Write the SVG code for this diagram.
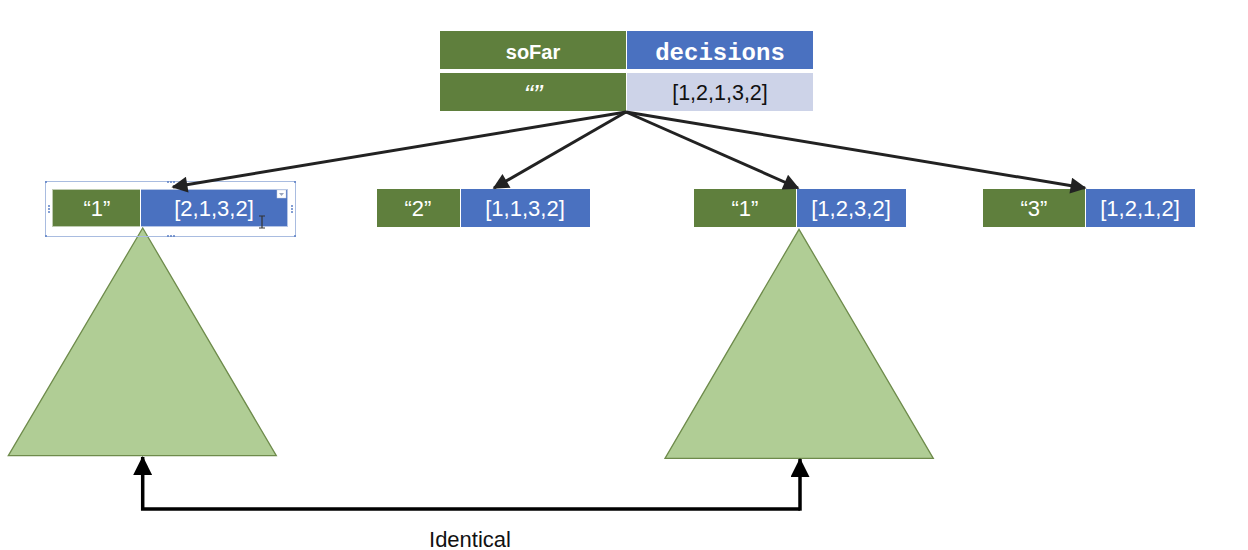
<svg xmlns="http://www.w3.org/2000/svg" width="1248" height="550" viewBox="0 0 1248 550">
<defs>
<style>
.g{fill:#5F7F3D}
.b{fill:#4A71C0}
.lb{fill:#CDD3E8}
.t{font-family:"Liberation Sans",Arial,sans-serif;font-size:22px;fill:#FFFFFF;text-anchor:middle}
.q{font-family:"Liberation Sans",Arial,sans-serif;font-size:28px;font-style:italic;fill:#FFFFFF;text-anchor:middle}
.tk{font-family:"Liberation Sans",Arial,sans-serif;font-size:21.5px;fill:#111111;text-anchor:middle}
.hb{font-family:"Liberation Sans",Arial,sans-serif;font-size:20px;font-weight:bold;fill:#FFFFFF;text-anchor:middle}
.hm{font-family:"Liberation Mono","Courier New",monospace;font-size:24px;font-weight:bold;fill:#FFFFFF;text-anchor:middle}
.tri{fill:#B0CD95;stroke:#6E8B4B;stroke-width:1.3}
.conn{stroke:#222222;stroke-width:3;fill:none;marker-end:url(#ah)}
.sel{fill:none;stroke:#A9BCE0;stroke-width:1}
.h{fill:#5B7FC4}
</style>
<marker id="ah" viewBox="0 0 10 10" refX="9" refY="5" markerWidth="21" markerHeight="16" markerUnits="userSpaceOnUse" orient="auto">
<path d="M0,0 L10,5 L0,10 z" fill="#222222"/>
</marker>
<marker id="ah2" viewBox="0 0 10 10" refX="9.5" refY="5" markerWidth="26" markerHeight="19" markerUnits="userSpaceOnUse" orient="auto">
<path d="M0,0 L10,5 L0,10 z" fill="#000000"/>
</marker>
</defs>
<rect width="1248" height="550" fill="#FFFFFF"/>

<g id="tri-left"><polygon class="tri" points="142.7,228 8.3,455.7 276.3,455.7"/></g>
<g id="tri-right"><polygon class="tri" points="799,229.3 665,458.3 933.3,458.3"/></g>

<g id="root">
<rect class="g" x="440" y="31" width="186" height="38"/>
<rect class="b" x="627" y="31" width="186" height="38"/>
<rect class="g" x="440" y="73" width="186" height="38"/>
<rect class="lb" x="627" y="73" width="186" height="38"/>
<text class="hb" x="533" y="59">soFar</text>
<text class="hm" x="720" y="60">decisions</text>
<text class="q" x="533" y="104">“”</text>
<text class="tk" x="720" y="100">[1,2,1,3,2]</text>
</g>

<g id="node1">
<rect class="sel" x="45.5" y="181.5" width="250" height="55"/>
<rect class="g" x="52" y="189" width="88" height="38"/>
<rect class="b" x="141" y="189" width="147" height="38"/>
<rect fill="none" stroke="#FFFFFF" stroke-width="1" x="52.5" y="189.5" width="235" height="37" opacity="0.6"/>
<text class="t" x="97" y="216">“1”</text>
<text class="t" x="214" y="216">[2,1,3,2]</text>
<rect x="277" y="190" width="9" height="8" fill="#FFFFFF" stroke="#C8D0E0" stroke-width="0.5"/>
<path d="M279,193 L284,193 L281.5,196 z" fill="#9AA5BC"/>
<path d="M259,216 L265,216 M262,216 L262,228 M259,228 L265,228" stroke="#333333" stroke-width="1.2"/>
<circle class="h" cx="46" cy="182" r="1"/><circle class="h" cx="295" cy="182" r="1"/>
<circle class="h" cx="46" cy="236" r="1"/><circle class="h" cx="295" cy="236" r="1"/>
<circle class="h" cx="168" cy="182" r="1"/><circle class="h" cx="171" cy="182" r="1"/><circle class="h" cx="174" cy="182" r="1"/>
<circle class="h" cx="168" cy="236" r="1"/><circle class="h" cx="171" cy="236" r="1"/><circle class="h" cx="174" cy="236" r="1"/>
<circle class="h" cx="49" cy="206" r="1"/><circle class="h" cx="49" cy="209" r="1"/><circle class="h" cx="49" cy="212" r="1"/>
<circle class="h" cx="292" cy="206" r="1"/><circle class="h" cx="292" cy="209" r="1"/><circle class="h" cx="292" cy="212" r="1"/>
</g>

<g id="node2">
<rect class="g" x="377" y="189" width="83" height="38"/>
<rect class="b" x="461" y="189" width="129" height="38"/>
<text class="t" x="418" y="216">“2”</text>
<text class="t" x="525" y="216">[1,1,3,2]</text>
</g>

<g id="node3">
<rect class="g" x="694" y="189" width="102" height="38"/>
<rect class="b" x="797" y="189" width="109" height="38"/>
<text class="t" x="745" y="216">“1”</text>
<text class="t" x="851" y="216">[1,2,3,2]</text>
</g>

<g id="node4">
<rect class="g" x="983" y="189" width="102" height="38"/>
<rect class="b" x="1086" y="189" width="109" height="38"/>
<text class="t" x="1034" y="216">“3”</text>
<text class="t" x="1140" y="216">[1,2,1,2]</text>
</g>

<g id="connectors">
<line class="conn" x1="626" y1="112" x2="173" y2="187"/>
<line class="conn" x1="626" y1="112" x2="494" y2="188"/>
<line class="conn" x1="626" y1="112" x2="798" y2="188"/>
<line class="conn" x1="626" y1="112" x2="1085" y2="188"/>
<polyline points="800,509 142.7,509 142.7,457" fill="none" stroke="#000000" stroke-width="3.5" marker-end="url(#ah2)"/>
<line x1="800" y1="510.7" x2="800" y2="459" stroke="#000000" stroke-width="3.5" marker-end="url(#ah2)"/>
</g>

<text id="label" x="470" y="547" font-family="'Liberation Sans',Arial,sans-serif" font-size="22" fill="#111111" text-anchor="middle">Identical</text>
</svg>
